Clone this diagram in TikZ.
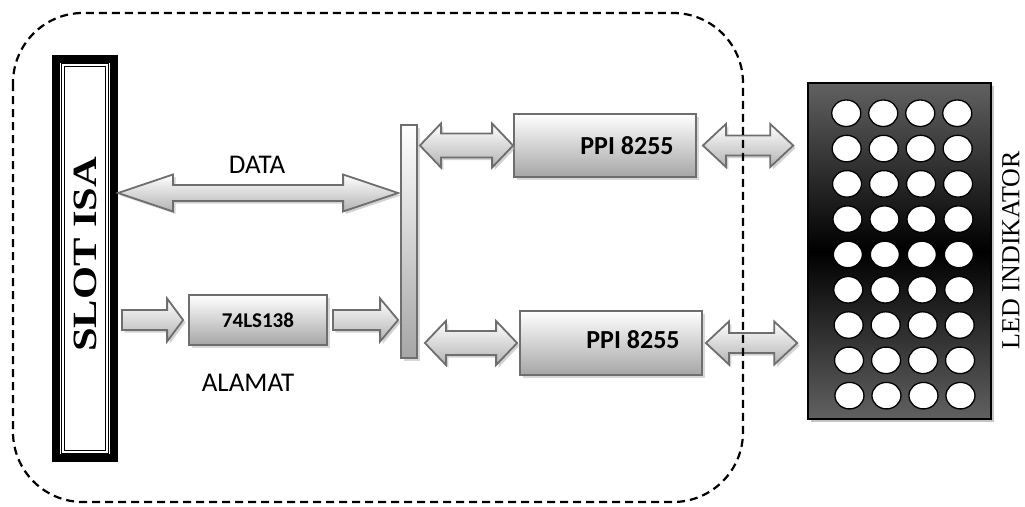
\documentclass[tikz,border=0pt]{standalone}
\usepackage{fontspec}
\setmainfont{Liberation Serif}
\newfontfamily\calibri{Carlito}
\usetikzlibrary{calc,shadows,shapes.geometric}

% block arrows between two points: start, end, half shaft, half head, head length
\newcommand{\dblarrow}[5]{%
  \path[bigarrow] let \p1=(#1), \p2=(#2) in
    (\x1,\y1) -- (\x1+#5pt,\y1+#4pt) -- (\x1+#5pt,\y1+#3pt) -- (\x2-#5pt,\y1+#3pt)
    -- (\x2-#5pt,\y1+#4pt) -- (\x2,\y1) -- (\x2-#5pt,\y1-#4pt) -- (\x2-#5pt,\y1-#3pt)
    -- (\x1+#5pt,\y1-#3pt) -- (\x1+#5pt,\y1-#4pt) -- cycle;}
\newcommand{\sglarrow}[5]{%
  \path[bigarrow] let \p1=(#1), \p2=(#2) in
    (\x1,\y1+#3pt) -- (\x2-#5pt,\y1+#3pt) -- (\x2-#5pt,\y1+#4pt) -- (\x2,\y1)
    -- (\x2-#5pt,\y1-#4pt) -- (\x2-#5pt,\y1-#3pt) -- (\x1,\y1-#3pt) -- cycle;}

\begin{document}
\begin{tikzpicture}[x=1pt,y=-1pt,
  bigarrow/.style={draw=black!57,line width=1.8pt,top color=white,bottom color=black!30,
    drop shadow={shadow xshift=2.5pt,shadow yshift=-2.5pt,fill=black!35}},
  chipbox/.style={draw=black!57,line width=1.8pt,top color=white,bottom color=black!35,
    drop shadow={shadow xshift=3pt,shadow yshift=-3pt,fill=black!30}},
  ledpanel/.style={draw=black,line width=1.5pt,top color=black!62,bottom color=black!62,
    middle color=black,drop shadow={shadow xshift=3pt,shadow yshift=-3pt,fill=black!45}},
  leddot/.style={ellipse,draw=black,line width=1.3pt,fill=white,minimum width=29,
    minimum height=26.5,inner sep=0pt},
  sanslabel/.style={font=\calibri\fontsize{27}{30}\selectfont},
  chiplabel/.style={font=\calibri\bfseries\fontsize{26}{30}\selectfont}]
\useasboundingbox (0,0) rectangle (1025,506);

% ISA slot
\node[draw=black,line width=8pt,minimum width=58,minimum height=399,inner sep=0pt] (slot) at (85,258.5) {};
\draw[double,double distance=2.2pt,line width=0.9pt] ($(slot.north west)+(11,10)$) rectangle ($(slot.south east)+(-11,-10)$);
\node[rotate=90,font=\bfseries\fontsize{34}{36}\selectfont] (slotlabel) at ([yshift=4]slot.center) {\scalebox{1.25}[1]{SLOT ISA}};

% decoder, bus bar and the two PPI chips
\node[chipbox,minimum width=138,minimum height=50,inner sep=0pt] (dec) at (258,320) {};
\node[font=\calibri\bfseries\fontsize{21}{24}\selectfont] (declabel) at (dec.center) {74LS138};
\node[chipbox,minimum width=16,minimum height=233,inner sep=0pt] (bar) at (409,241.5) {};
\node[chipbox,minimum width=182,minimum height=63,inner sep=0pt] (ppi1) at (605,145.5) {};
\node[chiplabel] (ppi1label) at ([xshift=22]ppi1.center) {PPI 8255};
\node[chipbox,minimum width=182,minimum height=64,inner sep=0pt] (ppi2) at (611,343) {};
\node[chiplabel] (ppi2label) at ([xshift=22,yshift=3]ppi2.center) {PPI 8255};

% LED matrix
\node[ledpanel,minimum width=183,minimum height=336,inner sep=0pt] (led) at (899.5,251) {};
\foreach \r in {0,...,8}
  \foreach \c in {0,...,3}
    \node[leddot] (dot\r\c) at ($(led.north west)+(39+37*\c+0.4*\r,31+35.3*\r)$) {};
\node[rotate=90,font=\fontsize{26}{28}\selectfont] (ledlabel) at (1011,250) {LED INDIKATOR};

% buses
\coordinate (databus) at (257,193);
\dblarrow{slot.east |- databus}{[xshift=-2]bar.west |- databus}{8}{18.5}{55}
\node[sanslabel] (datalabel) at (257,165) {DATA};
\sglarrow{[xshift=4]slot.east |- dec}{[xshift=-5]dec.west}{10}{21.5}{16}
\sglarrow{[xshift=5]dec.east}{[xshift=-2]bar.west |- dec}{10}{21.5}{18}
\node[sanslabel] (addrlabel) at (248,383) {ALAMAT};
\dblarrow{[xshift=2]bar.east |- ppi1}{ppi1.west}{12}{22}{21}
\dblarrow{[xshift=7]bar.east |- ppi2}{[xshift=-2]ppi2.west}{12}{22}{21}
\dblarrow{[xshift=6]ppi1.east}{[xshift=-14]led.west |- ppi1}{10}{21.5}{23}
\dblarrow{[xshift=3]ppi2.east}{[xshift=-10]led.west |- ppi2}{10}{21.5}{23}

% card outline
\draw[dash pattern=on 8pt off 5pt,line width=2.2pt,rounded corners=70] (13,13) rectangle (743,502);
\end{tikzpicture}
\end{document}
